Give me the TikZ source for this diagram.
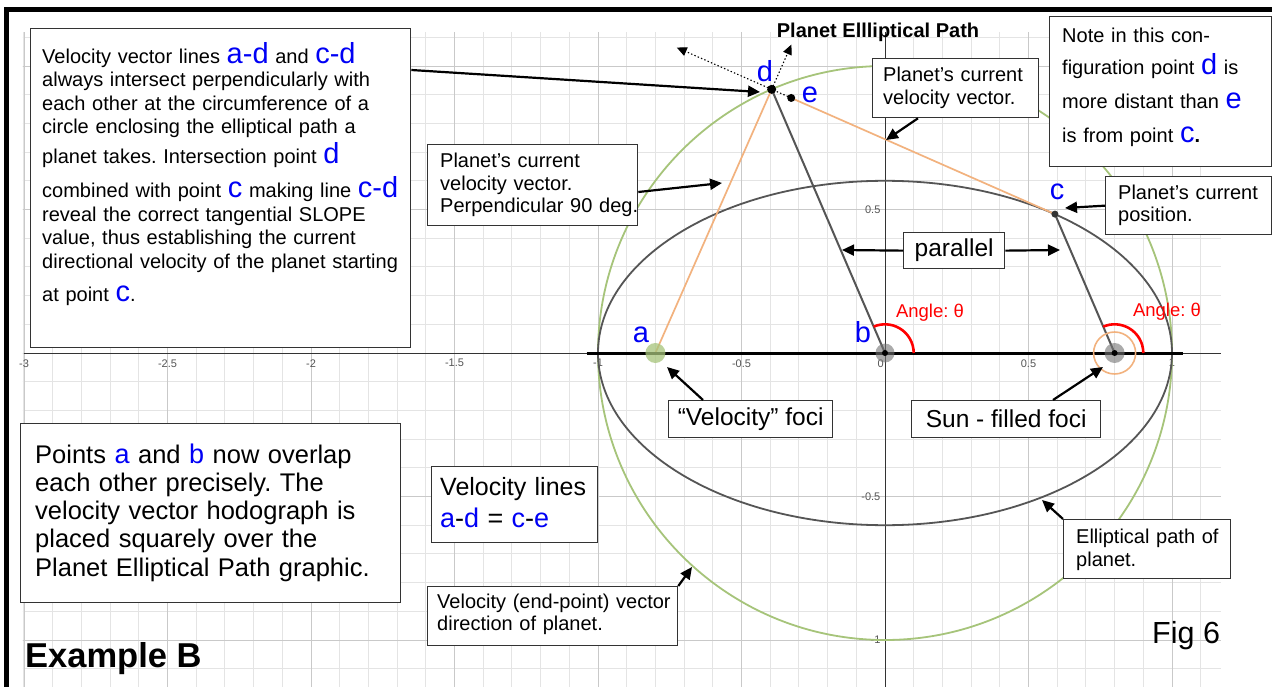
\documentclass[tikz,border=0pt]{standalone}
\usepackage{fontspec}
\setmainfont{Liberation Sans}
\usetikzlibrary{arrows.meta,calc}
\frenchspacing
\definecolor{gridminor}{HTML}{E4E4E4}
\definecolor{gridmajor}{HTML}{C9C9C9}
\definecolor{ellgray}{HTML}{555555}
\definecolor{circgreen}{HTML}{A6C47A}
\definecolor{orangeln}{HTML}{F2B27E}
\definecolor{axlab}{HTML}{555555}
\definecolor{txtblue}{HTML}{0000F5}
\newcommand\bluet[1]{{\color{txtblue}\fontsize{29}{29}\selectfont #1}}
\newcommand\bluep[1]{{\color{txtblue}\fontsize{27}{27}\selectfont #1}}
\begin{document}
\begin{tikzpicture}[x=1pt,y=-1pt,
  box/.style={draw=black!80,line width=1.3pt,fill=white,rectangle,inner sep=0pt,anchor=north west},
  txt/.style={anchor=base west,align=left,inner sep=0pt,text width=400pt,font={\fontsize{20}{23.5}\selectfont\lineskiplimit=-100pt\frenchspacing}},
  callout/.style={draw=black,line width=2.2pt,-{Triangle[length=12pt,width=11pt]}},
  dotarrow/.style={draw=black,line width=1.1pt,dash pattern=on 1.4pt off 2.2pt,-{Triangle[length=10pt,width=9pt]}},
  ptlab/.style={text=txtblue,font=\fontsize{29}{29}\selectfont,anchor=base,inner sep=0pt},
  anglab/.style={text=red,font=\fontsize{18.5}{18.5}\selectfont,inner sep=0pt},
  axl/.style={text=axlab,font=\fontsize{11}{11}\selectfont,inner sep=1pt}
]
\useasboundingbox (0,0) rectangle (1272,687);
\fill[white] (0,0) rectangle (1272,687);

% ---------------- graph ----------------
\begin{scope}[shift={(885,353)},x=287pt,y=287pt]
  \begin{scope}
    \clip (-3.004,-1.3) rectangle (1.17,1.118);
    \draw[gridminor,line width=0.9pt,step=0.1] (-3.2,-1.4) grid (1.4,1.3);
    \draw[gridmajor,line width=0.9pt,step=0.5] (-3.5,-1.5) grid (1.5,1.5);
  \end{scope}
  \draw[black!80,line width=0.9pt] (-3,0) -- (1.17,0);
  \draw[black!80,line width=0.9pt] (0,1.118) -- (0,-1.3);
  \foreach \v [count=\i] in {-3,-2.5,-2,-1.5,-1,-0.5,0.5,1}
    \node[axl,anchor=north] (xl\i) at (\v,-0.018) {\v};
  \node[axl,anchor=north east] (xl0) at (0,-0.018) {0};
  \node[axl,anchor=east] (yl1) at (-0.012,0.5) {0.5};
  \node[axl,anchor=east] (yl2) at (-0.012,-0.5) {-0.5};
  \node[axl,anchor=east] (yl3) at (-0.012,-1) {-1};

  \coordinate (A) at (-0.8,0);
  \coordinate (B) at (0,0);
  \coordinate (S) at (0.8,0);
  \coordinate (C) at (0.592,0.484);
  \coordinate (D) at (113.26:1);
  \coordinate (E) at ($(C)!0.931!(D)$);
  \coordinate (U) at ($(D)!-0.17!(A)$);
  \coordinate (L) at ($(D)!-0.335!(C)$);

  \draw[circgreen,line width=1.8pt] (0,0) circle[radius=1];
  \draw[ellgray,line width=1.8pt] (0,0) ellipse[x radius=1,y radius=0.6];
  \draw[orangeln,line width=1.7pt] (A) -- (D);
  \draw[orangeln,line width=1.7pt] (C) -- (E);
  \draw[ellgray,line width=2pt] (B) -- (D);
  \draw[ellgray,line width=2pt] (S) -- (C);
  \draw[black,line width=3pt] (-1.04,0) -- (1.04,0);
  \fill[circgreen,opacity=0.75] (A) circle[radius=10pt];
  \fill[black!55,opacity=0.6] (B) circle[radius=9.5pt];
  \fill[black] (B) circle[radius=3pt];
  \draw[orangeln,line width=1.6pt] (S) circle[radius=21pt];
  \fill[black!55,opacity=0.6] (S) circle[radius=10pt];
  \fill[black] (S) circle[radius=3pt];
  \draw[red,line width=2.6pt] ($(B)+(0.1,0)$) arc[start angle=0,end angle=113.26,radius=0.1];
  \draw[red,line width=2.6pt] ($(S)+(0.1,0)$) arc[start angle=0,end angle=113.26,radius=0.1];
  \draw[dotarrow] (E) -- (L);
  \draw[dotarrow] (D) -- (U);
  \fill[black!80] (C) circle[radius=3.5pt];
  \fill[black] (D) circle[radius=4.5pt];
  \fill[black] (E) circle[radius=4pt];
\end{scope}

% ---------------- labels on graph ----------------
\node[ptlab] (la) at (641,342) {a};
\node[ptlab] (lb) at (863,342) {b};
\node[ptlab] (lc) at (1057,200) {c};
\node[ptlab] (ld) at (765,82) {d};
\node[ptlab] (le) at (810,103) {e};
\node[anglab] (ang1) at (930,313) {Angle: θ};
\node[anglab] (ang2) at (1167,312) {Angle: θ};
\node[font=\bfseries\fontsize{20}{20}\selectfont,anchor=base,inner sep=0pt] (title) at (878,38) {Planet Ellliptical Path};

% ---------------- frame ----------------
\draw[black,line width=5pt] (6,700) -- (6,10) -- (1280,10);

% ---------------- callout boxes ----------------
\node[box,minimum width=380pt,minimum height=319pt] (b1) at (30,28) {};
\node[txt] (t1) at (42,63.5) {Velocity vector lines \bluet{a-d} and \bluet{c-d}\\
always intersect perpendicularly with\\
each other at the circumference of a\\
circle enclosing the elliptical path a\\[6.5pt]
planet takes. Intersection point \bluet{d}\\[10.5pt]
combined with point \bluet{c} making line \bluet{c-d}\\
reveal the correct tangential SLOPE\\
value, thus establishing the current\\
directional velocity of the planet starting\\[9.5pt]
at point \bluet{c}.};

\node[box,minimum width=210pt,minimum height=81pt] (b2) at (427,144) {};
\node[txt,font=\fontsize{20}{22.5}\selectfont] (t2) at (440,168) {Planet’s current\\velocity vector.\\Perpendicular 90 deg.};

\node[box,minimum width=166pt,minimum height=59pt] (b3) at (872,58) {};
\node[txt,font=\fontsize{20}{23}\selectfont] (t3) at (883,82) {Planet’s current\\velocity vector.};

\node[box,minimum width=222pt,minimum height=150pt] (b4) at (1049,16) {};
\node[txt] (t4) at (1062,43) {Note in this con-\\[8.5pt]
figuration point \bluet{d} is\\[10.5pt]
more distant than \bluet{e}\\[10.5pt]
is from point \bluet{c}\textbf{.}};

\node[box,minimum width=166pt,minimum height=58pt] (b5) at (1105,176) {};
\node[txt,font=\fontsize{20}{22}\selectfont] (t5) at (1118,200) {Planet’s current\\position.};

\node[box,minimum width=101pt,minimum height=36pt,font=\fontsize{24.5}{24.5}\selectfont] (b6) at (903,232) {parallel};
\node[box,minimum width=164pt,minimum height=37pt,font=\fontsize{24.5}{24.5}\selectfont] (b7) at (668,400) {“Velocity” foci};
\node[box,minimum width=189pt,minimum height=37pt,font=\fontsize{24.5}{24.5}\selectfont] (b8) at (911,400) {Sun - filled foci};

\node[box,minimum width=380pt,minimum height=179pt] (b9) at (20,423) {};
\node[txt,font=\fontsize{25.5}{28.3}\selectfont] (t9) at (35,463) {Points \bluep{a} and \bluep{b} now overlap\\each other precisely. The\\velocity vector hodograph is\\placed squarely over the\\Planet Elliptical Path graphic.};

\node[box,minimum width=166pt,minimum height=76pt] (b10) at (431,466) {};
\node[txt,font=\fontsize{25}{32}\selectfont] (t10) at (440,495) {Velocity lines\\{\fontsize{27}{32}\selectfont\textcolor{txtblue}{a}-\textcolor{txtblue}{d} = \textcolor{txtblue}{c}-\textcolor{txtblue}{e}}};

\node[box,minimum width=250pt,minimum height=59pt] (b11) at (427,586) {};
\node[txt,font=\fontsize{20}{22.5}\selectfont] (t11) at (437,608) {Velocity (end-point) vector\\direction of planet.};

\node[box,minimum width=167pt,minimum height=59pt] (b12) at (1063,519) {};
\node[txt,font=\fontsize{20}{23}\selectfont] (t12) at (1076,543) {Elliptical path of\\planet.};

\node[font=\bfseries\fontsize{34.5}{34.5}\selectfont,anchor=base west,inner sep=0pt] (exb) at (25,667) {Example B};
\node[font=\fontsize{30.5}{30.5}\selectfont,anchor=base west,inner sep=0pt] (fig) at (1152,643) {Fig 6};

% ---------------- callout arrows ----------------
\coordinate (pD) at (760,92);
\coordinate (pV) at (722,183);
\coordinate (pT) at (886,140);
\coordinate (pC) at (1065,208);
\coordinate (pP1) at (842,250);
\coordinate (pP2) at (1060,250);
\coordinate (pA) at (667,367);
\coordinate (pS) at (1103,367);
\coordinate (pE) at (692,567);
\coordinate (pL) at (1042,500);
\draw[callout] ([yshift=-42pt]b1.north east) -- (pD);
\draw[callout] ([yshift=-48pt]b2.north east) -- (pV);
\draw[callout] ([xshift=46pt]b3.south west) -- (pT);
\draw[callout] (b5.west) -- (pC);
\draw[callout] (b6.west) -- (pP1);
\draw[callout] (b6.east) -- (pP2);
\draw[callout] ([xshift=35pt]b7.north west) -- (pA);
\draw[callout] ([xshift=142pt]b8.north west) -- (pS);
\draw[callout] (b11.north east) -- (pE);
\draw[callout] (b12.north west) -- (pL);
\end{tikzpicture}
\end{document}
